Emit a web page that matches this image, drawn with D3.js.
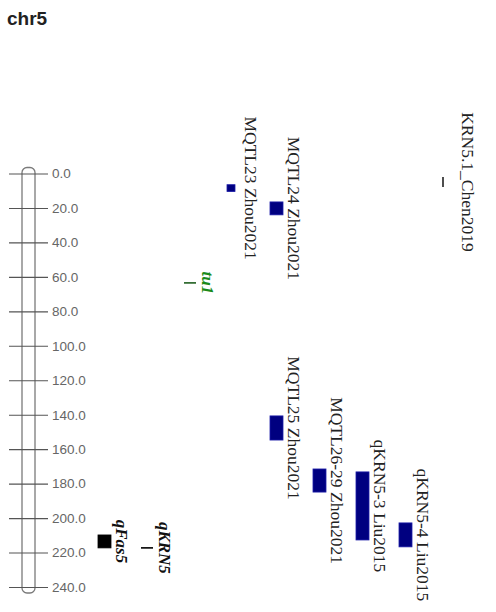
<!DOCTYPE html>
<html>
<head>
<meta charset="utf-8">
<script src="https://cdn.jsdelivr.net/npm/d3@7/dist/d3.min.js"></script>
<style>
  html, body { margin: 0; padding: 0; background: #fff; }
  svg { display: block; }
</style>
</head>
<body>
<svg id="chart" width="496" height="612"></svg>
<script>
// Linkage group chr5 (cM) with QTL intervals placed in lanes beside it
const chromName = "chr5";
const chromLength = [0, 240];
const tickValues = [0, 20, 40, 60, 80, 100, 120, 140, 160, 180, 200, 220, 240];

// QTL names, labels, kind and interval (cM)
const qtlNames  = ["qFas5", "qKRN5", "tu1", "MQTL23", "MQTL24", "MQTL25", "MQTL26-29", "qKRN5-3", "qKRN5-4", "KRN5.1"];
const qtlLabels = ["qFas5", "qKRN5", "tu1", "MQTL23 Zhou2021", "MQTL24 Zhou2021", "MQTL25 Zhou2021",
                   "MQTL26-29 Zhou2021", "qKRN5-3 Liu2015", "qKRN5-4 Liu2015", "KRN5.1_Chen2019"];
const qtlKinds  = ["box", "point", "point", "box", "box", "box", "box", "box", "box", "line"];
const qtlStart  = [209.8, 217.3, 63.5, 6.5, 16.5, 140.7, 171.5, 173.2, 202.8, 2.0];
const qtlEnd    = [217.3, 217.3, 63.5, 10.5, 24.0, 154.7, 184.9, 212.7, 216.7, 7.8];
const qtlGroup  = ["gene", "gene", "mutant", "meta", "meta", "meta", "meta", "qtl", "qtl", "qtl"];

// Lane assignment (left to right)
const laneOrder = ["qFas5", "qKRN5", "tu1", "MQTL23", "MQTL24|MQTL25", "MQTL26-29", "qKRN5-3", "qKRN5-4", "KRN5.1"];

const qtls = qtlNames.map((n, i) => ({
  name: n, label: qtlLabels[i], kind: qtlKinds[i],
  start: qtlStart[i], end: qtlEnd[i], group: qtlGroup[i],
  lane: laneOrder.findIndex(l => l.split("|").includes(n))
}));

const svg = d3.select("#chart");

const y = d3.scaleLinear().domain(chromLength).range([173.5, 587]);
const laneX = d3.scaleLinear().domain([0, laneOrder.length - 1]).range([98, 442]);

const barW = 13;
const colors = {
  gene:   { fill: "#000000", stroke: "#000000", text: "#111111" },
  mutant: { fill: "#1f5f1f", stroke: "#1f5f1f", text: "#1a8a1a" },
  meta:   { fill: "#000080", stroke: "#1c1ca8", text: "#222222" },
  qtl:    { fill: "#000080", stroke: "#1c1ca8", text: "#222222" }
};

// Title
svg.append("text")
  .attr("x", 7).attr("y", 25)
  .attr("font-family", "Liberation Sans, Arial, sans-serif")
  .attr("font-weight", "bold")
  .attr("font-size", 19)
  .attr("fill", "#222")
  .text(chromName);

// Chromosome body
const chromX = 22;
svg.append("rect")
  .attr("x", chromX).attr("width", 13)
  .attr("y", y(chromLength[0]) - 6)
  .attr("height", y(chromLength[1]) - y(chromLength[0]) + 12)
  .attr("rx", 5).attr("ry", 5)
  .attr("fill", "none")
  .attr("stroke", "#7a7a7a")
  .attr("stroke-width", 1.3);

// Ruler ticks and labels
const axis = d3.axisRight(y)
  .tickValues(tickValues)
  .tickFormat(d3.format(".1f"))
  .tickSize(0)
  .tickPadding(0);

const gAxis = svg.append("g").attr("transform", "translate(52,0)").call(axis);
gAxis.select(".domain").remove();
gAxis.selectAll(".tick text")
  .attr("x", 0)
  .attr("font-family", "Liberation Sans, Arial, sans-serif")
  .attr("font-size", 13.5)
  .attr("fill", "#666");
gAxis.selectAll(".tick").append("line")
  .attr("x1", 9 - 52).attr("x2", 48 - 52)
  .attr("stroke", "#555")
  .attr("stroke-width", 1.1);

// QTL marks
const g = svg.append("g");
qtls.forEach(d => {
  const c = colors[d.group];
  const x0 = laneX(d.lane);
  if (d.kind === "box") {
    g.append("rect")
      .attr("x", x0).attr("width", d.name === "MQTL23" ? 8 : barW)
      .attr("y", y(d.start))
      .attr("height", y(d.end) - y(d.start))
      .attr("fill", c.fill)
      .attr("stroke", c.stroke)
      .attr("stroke-width", 0.8);
  } else if (d.kind === "point") {
    g.append("line")
      .attr("x1", x0).attr("x2", x0 + 12)
      .attr("y1", y(d.start)).attr("y2", y(d.start))
      .attr("stroke", c.fill)
      .attr("stroke-width", 1.6);
  } else {
    g.append("line")
      .attr("x1", x0 + 1).attr("x2", x0 + 1)
      .attr("y1", y(d.start)).attr("y2", y(d.end))
      .attr("stroke", "#222")
      .attr("stroke-width", 1.6);
  }

  const mid = y((d.start + d.end) / 2);
  const tx = x0 + (d.kind === "line" ? 20 : 18);
  const emphasised = d.group === "gene" || d.group === "mutant";
  g.append("text")
    .attr("transform", `translate(${tx},${mid}) rotate(90)`)
    .attr("text-anchor", "middle")
    .attr("font-family", "Liberation Serif, Times New Roman, serif")
    .attr("font-size", emphasised ? 17 : 17.5)
    .attr("font-style", emphasised ? "italic" : "normal")
    .attr("font-weight", emphasised ? "bold" : "normal")
    .attr("fill", c.text)
    .text(d.label);
});
</script>
</body>
</html>
